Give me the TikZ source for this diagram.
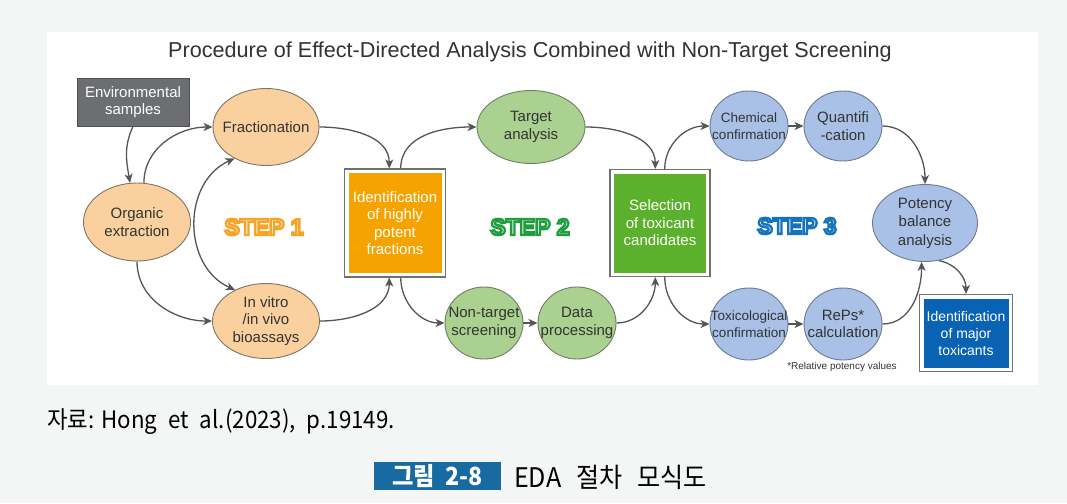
\documentclass[tikz,border=0pt]{standalone}
\usepackage{fontspec}
\setmainfont{Liberation Sans}
\newfontfamily\kr[FakeStretch=0.93]{Noto Sans CJK KR}
\usetikzlibrary{shapes.geometric,arrows.meta}
\definecolor{bgc}{HTML}{F4F6F6}
\definecolor{txt}{HTML}{333333}
\definecolor{envc}{HTML}{6D6E71}
\definecolor{envb}{HTML}{505052}
\definecolor{ofill}{HTML}{FAD19E}
\definecolor{obord}{HTML}{7F7466}
\definecolor{gfill}{HTML}{AAD18F}
\definecolor{gbord}{HTML}{6F7F63}
\definecolor{bfill}{HTML}{A9C1E6}
\definecolor{bbord}{HTML}{6B7A95}
\definecolor{obox}{HTML}{F5A300}
\definecolor{gbox}{HTML}{5BB12B}
\definecolor{bbox}{HTML}{0A62B2}
\definecolor{framec}{HTML}{707070}
\definecolor{arrc}{HTML}{555555}
\definecolor{stepo}{HTML}{F7A325}
\definecolor{stepg}{HTML}{1E9E3E}
\definecolor{stepb}{HTML}{1573BA}
\definecolor{figc}{HTML}{176BA0}
% outlined text: stroke colour given as r g b
\newcommand{\outlinetext}[2]{\special{pdf:code q 2 Tr 2.3 w #1 RG}#2\special{pdf:code Q}}
\tikzset{
  ell/.style={ellipse, inner xsep=-12pt, inner ysep=0pt, line width=0.9pt, align=center, text=txt,
    font=\fontsize{15}{17.5}\selectfont},
  oell/.style={ell, fill=ofill, draw=obord},
  gell/.style={ell, fill=gfill, draw=gbord},
  bell/.style={ell, fill=bfill, draw=bbord},
  framebox/.style={rectangle, draw=framec, line width=1.1pt, fill=white, inner sep=0pt,
    align=center, text=white, font=\fontsize{15}{17.5}\selectfont,
    path picture={\fill[#1] ([shift={(4pt,-4pt)}]path picture bounding box.north west)
      rectangle ([shift={(-4pt,4pt)}]path picture bounding box.south east);}},
  steptext/.style={font=\fontsize{23}{25}\bfseries\selectfont},
  arr/.style={draw=arrc, line width=1.3pt, -{Stealth[length=9pt,width=8pt,inset=2.5pt]}},
  arrb/.style={draw=arrc, line width=1.3pt, {Stealth[length=9pt,width=8pt,inset=2.5pt]}-{Stealth[length=9pt,width=8pt,inset=2.5pt]}},
}
\begin{document}
\begin{tikzpicture}[x=1pt,y=1pt]
\useasboundingbox (0,0) rectangle (1067,-503);
\fill[bgc] (0,0) rectangle (1067,-503);
\fill[white] (47,-32) rectangle (1038,-385);

\node[text=txt, font=\fontsize{21.6}{24}\selectfont] (title) at (530,-52)
  {Procedure of Effect-Directed Analysis Combined with Non-Target Screening};

% STEP 1 nodes
\node[rectangle, fill=envc, draw=envb, line width=0.8pt, minimum width=112pt, minimum height=48pt,
  inner sep=0pt, align=center, text=white, font=\fontsize{15}{17.5}\selectfont] (env) at (133,-102)
  {Environmental\\samples};
\node[oell, minimum width=107pt, minimum height=78pt] (org) at (137,-222) {Organic\\extraction};
\node[oell, minimum width=106pt, minimum height=77pt] (frac) at (266,-127) {Fractionation};
\node[oell, minimum width=107pt, minimum height=75pt] (bio) at (266,-321) {In vitro\\/in vivo\\bioassays};
\node[steptext, text=stepo!18] (step1) at (264,-227) {\outlinetext{0.97 0.64 0.15}{STEP 1}};
\node[framebox=obox, minimum width=101pt, minimum height=108pt] (idf) at (395,-223)
  {Identification\\of highly\\potent\\fractions};

% STEP 2 nodes
\node[gell, minimum width=108pt, minimum height=73pt] (tgt) at (531,-127) {Target\\analysis};
\node[gell, minimum width=78pt, minimum height=72pt] (nt) at (484,-323) {Non-target\\screening};
\node[gell, minimum width=78pt, minimum height=72pt] (dp) at (577,-323) {Data\\processing};
\node[steptext, text=stepg!12] (step2) at (530,-227) {\outlinetext{0.12 0.62 0.24}{STEP 2}};
\node[framebox=gbox, minimum width=100pt, minimum height=107pt] (sel) at (660,-223)
  {Selection\\of toxicant\\candidates};

% STEP 3 nodes
\node[bell, minimum width=78pt, minimum height=70pt, font=\fontsize{13.5}{17}\selectfont] (chem) at (749,-126) {Chemical\\confirmation};
\node[bell, minimum width=78pt, minimum height=70pt] (quant) at (843,-126) {Quantifi\\-cation};
\node[bell, minimum width=105pt, minimum height=77pt, font=\fontsize{15}{18.5}\selectfont] (pot) at (925,-223) {Potency\\balance\\analysis};
\node[steptext, text=stepb!12] (step3) at (797,-226) {\outlinetext{0.08 0.45 0.73}{STEP 3}};
\node[bell, minimum width=78pt, minimum height=72pt, font=\fontsize{13.5}{17}\selectfont] (tox) at (749,-324) {Toxicological\\confirmation};
\node[bell, minimum width=78pt, minimum height=72pt] (reps) at (843,-324) {RePs*\\calculation};
\node[text=txt, font=\fontsize{10}{12}\selectfont] (note) at (842,-367) {*Relative potency values};
\node[framebox=bbox, minimum width=93pt, minimum height=77pt, font=\fontsize{14}{17}\selectfont] (major) at (966,-333)
  {Identification\\of major\\toxicants};

% connectors
\draw[arr] (env.south) to[out=-115,in=100] (org.100);
\draw[arr] (org.80) to[out=90,in=180] (frac.west);
\draw[arr] (org.south) to[out=-90,in=180] (bio.west);
\draw[arrb] (frac.225) .. controls (182,-182) and (182,-266) .. (bio.135);
\draw[arr] (frac.east) to[out=0,in=90] (idf.96);
\draw[arr] (bio.east) to[out=0,in=-90] (idf.264);
\draw[arr] (idf.84) to[out=90,in=180] (tgt.west);
\draw[arr] (idf.276) to[out=-90,in=180] (nt.west);
\draw[arr] (nt.east) -- (dp.west);
\draw[arr] (tgt.east) to[out=0,in=90] (sel.95);
\draw[arr] (dp.east) to[out=0,in=-90] (sel.265);
\draw[arr] (sel.85) to[out=90,in=180] (chem.west);
\draw[arr] (sel.275) to[out=-90,in=180] (tox.west);
\draw[arr] (chem.east) -- (quant.west);
\draw[arr] (tox.east) -- (reps.west);
\draw[arr] (quant.east) to[out=0,in=90] (pot.north);
\draw[arr] (reps.east) to[out=0,in=-90] (pot.265);
\draw[arr] (pot.290) to[out=-10,in=90] (major.north);

% caption
\node[anchor=west, text=black, font=\kr\fontsize{24}{26}\selectfont, inner sep=0pt] (src) at (47,-422)
  {자료:\hspace{7pt}Hong\hspace{11pt}et\hspace{11pt}al.(2023),\hspace{11pt}p.19149.};
\node[rectangle, fill=figc, minimum width=127pt, minimum height=28pt, inner sep=0pt,
  text=white, font=\kr\fontsize{25}{27}\bfseries\selectfont] (fig) at (437.5,-476) {그림\hspace{10pt}2-8};
\node[anchor=west, text=black, inner sep=0pt, font=\kr\fontsize{27}{29}\selectfont] (figt) at (514,-477)
  {EDA\hspace{15pt}절차\hspace{15pt}모식도};
\end{tikzpicture}
\end{document}
